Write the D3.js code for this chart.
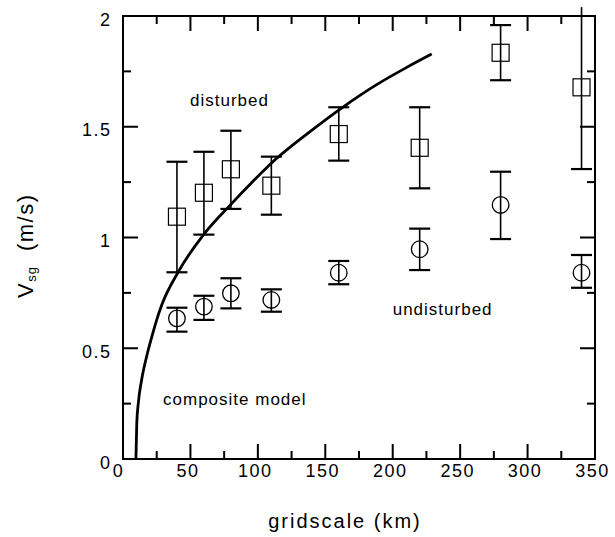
<!DOCTYPE html>
<html>
<head>
<meta charset="utf-8">
<script src="https://cdn.jsdelivr.net/npm/d3@7"></script>
<style>
  html, body { margin: 0; padding: 0; background: #fff; }
  svg { display: block; }
  text { font-family: "Liberation Sans", Arial, Helvetica, sans-serif; fill: #000; }
</style>
</head>
<body>
<svg id="chart" width="615" height="537"></svg>
<script>
// ---- data ----
const gridscale = [40, 60, 80, 110, 160, 220, 280, 340];
const disturbedMean = [1.094, 1.202, 1.308, 1.234, 1.467, 1.405, 1.834, 1.678];
const disturbedHigh = [1.342, 1.387, 1.482, 1.365, 1.588, 1.588, 1.959, 2.04];
const disturbedLow  = [0.843, 1.013, 1.129, 1.103, 1.347, 1.222, 1.710, 1.309];
const undisturbedMean = [0.635, 0.688, 0.748, 0.718, 0.841, 0.947, 1.147, 0.841];
const undisturbedHigh = [0.683, 0.737, 0.816, 0.766, 0.894, 1.040, 1.297, 0.921];
const undisturbedLow  = [0.575, 0.628, 0.680, 0.665, 0.789, 0.853, 0.993, 0.773];
const modelX = [9.6, 10.2, 11.4, 13.9, 17.6, 21.3, 25, 28.7, 41, 59.5, 79.3, 96.6, 109, 138.7, 163.4, 188.1, 210.4, 228.9];
const modelY = [0, 0.16, 0.255, 0.36, 0.465, 0.55, 0.628, 0.695, 0.845, 1.011, 1.145, 1.255, 1.33, 1.478, 1.59, 1.69, 1.768, 1.828];
const xTickValues = [0, 50, 100, 150, 200, 250, 300, 350];
const xMajorTicks = [50, 100, 150, 200, 250, 300];
const xMinorTicks = [25, 75, 125, 175, 225, 275, 325];
const yTickValues = [0, 0.5, 1, 1.5, 2];
const yTickLabels = ["0", "0.5", "1", "1.5", "2"];
const yMajorTicks = [0.5, 1, 1.5];
const yMinorTicks = [0.25, 0.75, 1.25, 1.75];
const annotations = [
  {text: "disturbed", x: 49.7, y: 1.594},
  {text: "undisturbed", x: 200, y: 0.650},
  {text: "composite model", x: 29.7, y: 0.245}
];

// ---- layout ----
const L = 123, R = 595, T = 16, B = 459;
const MAJ = 15, MIN = 8;
const x = d3.scaleLinear().domain([0, 350]).range([L, R]);
const y = d3.scaleLinear().domain([0, 2]).range([B, T]);
const svg = d3.select("#chart");

// frame
svg.append("rect").attr("x", L).attr("y", T).attr("width", R - L).attr("height", B - T)
  .attr("fill", "none").attr("stroke", "#000").attr("stroke-width", 2);

// inward tick marks on all four sides, placed by the scales (filled thin rects)
const xTickMarks = xMajorTicks.map(v => ({v: v, len: MAJ})).concat(xMinorTicks.map(v => ({v: v, len: MIN})));
const yTickMarks = yMajorTicks.map(v => ({v: v, len: MAJ})).concat(yMinorTicks.map(v => ({v: v, len: MIN})));
const tg = svg.append("g").attr("fill", "#000");
tg.selectAll("rect.tb").data(xTickMarks).join("rect").attr("class", "tb")
  .attr("x", d => x(d.v) - 1).attr("y", d => B - d.len).attr("width", 2).attr("height", d => d.len);
tg.selectAll("rect.tt").data(xTickMarks).join("rect").attr("class", "tt")
  .attr("x", d => x(d.v) - 1).attr("y", T).attr("width", 2).attr("height", d => d.len);
tg.selectAll("rect.tl").data(yTickMarks).join("rect").attr("class", "tl")
  .attr("x", L).attr("y", d => y(d.v) - 1).attr("width", d => d.len).attr("height", 2);
tg.selectAll("rect.tr").data(yTickMarks).join("rect").attr("class", "tr")
  .attr("x", d => R - d.len).attr("y", d => y(d.v) - 1).attr("width", d => d.len).attr("height", 2);

// tick labels via axes
const gB = svg.append("g").attr("transform", `translate(0,${B})`)
  .call(d3.axisBottom(x).tickValues(xTickValues).tickSize(0).tickPadding(5).tickFormat(d3.format("d")));
gB.select(".domain").remove();
gB.selectAll(".tick line").remove();
gB.selectAll(".tick text").attr("font-size", 18).attr("letter-spacing", 1.5)
  .attr("dx", d => d === 0 ? -5 : -3).attr("dy", "0.71em");

const gL = svg.append("g").attr("transform", `translate(${L},0)`)
  .call(d3.axisLeft(y).tickValues(yTickValues).tickSize(0).tickPadding(11.5)
    .tickFormat((d, i) => yTickLabels[i]));
gL.select(".domain").remove();
gL.selectAll(".tick line").remove();
gL.selectAll(".tick text").attr("font-size", 18).attr("letter-spacing", 1.5)
  .attr("dy", d => d === 0 ? "0.55em" : "0.5em");

// axis titles
svg.append("text").attr("x", (L + R) / 2 - 14).attr("y", 528)
  .attr("text-anchor", "middle").attr("font-size", 20).attr("letter-spacing", 2)
  .text("gridscale (km)");
const yt = svg.append("text").attr("transform", "translate(33,298) rotate(-90)")
  .attr("font-size", 22).attr("letter-spacing", 1.5);
yt.append("tspan").text("V");
yt.append("tspan").attr("font-size", 13).attr("letter-spacing", 1).attr("dy", 3).text("sg");
yt.append("tspan").attr("dy", -3).attr("dx", 15).text("(m/s)");

// model curve
const modelData = modelX.map((v, i) => [v, modelY[i]]);
svg.append("path").datum(modelData)
  .attr("fill", "none").attr("stroke", "#000").attr("stroke-width", 2.8)
  .attr("d", d3.line().x(d => x(d[0])).y(d => y(d[1])).curve(d3.curveMonotoneX));

// error bars + markers
function drawSeries(means, highs, lows, shape) {
  const data = gridscale.map((g, i) => ({g, m: means[i], hi: highs[i], lo: lows[i]}));
  const grp = svg.append("g");
  grp.selectAll("line.eb").data(data).join("line").attr("class", "eb")
    .attr("x1", d => x(d.g)).attr("x2", d => x(d.g))
    .attr("y1", d => y(d.hi)).attr("y2", d => y(d.lo))
    .attr("stroke", "#000").attr("stroke-width", 1.6);
  const caps = [];
  data.forEach(d => {
    if (d.hi <= 2) caps.push({g: d.g, v: d.hi});
    caps.push({g: d.g, v: d.lo});
  });
  grp.selectAll("line.cap").data(caps).join("line").attr("class", "cap")
    .attr("x1", d => x(d.g) - 10.5).attr("x2", d => x(d.g) + 10.5)
    .attr("y1", d => y(d.v)).attr("y2", d => y(d.v))
    .attr("stroke", "#000").attr("stroke-width", 2.2);
  if (shape === "square") {
    grp.selectAll("rect").data(data).join("rect")
      .attr("x", d => x(d.g) - 8.5).attr("y", d => y(d.m) - 8.5)
      .attr("width", 17).attr("height", 17)
      .attr("fill", "none").attr("stroke", "#000").attr("stroke-width", 1.2);
  } else {
    grp.selectAll("circle").data(data).join("circle")
      .attr("cx", d => x(d.g)).attr("cy", d => y(d.m)).attr("r", 8.3)
      .attr("fill", "none").attr("stroke", "#000").attr("stroke-width", 1.3);
  }
}
drawSeries(disturbedMean, disturbedHigh, disturbedLow, "square");
drawSeries(undisturbedMean, undisturbedHigh, undisturbedLow, "circle");

// annotations
svg.selectAll("text.ann").data(annotations).join("text").attr("class", "ann")
  .attr("x", d => x(d.x)).attr("y", d => y(d.y))
  .attr("font-size", 17).attr("letter-spacing", 1)
  .text(d => d.text);
</script>
</body>
</html>
